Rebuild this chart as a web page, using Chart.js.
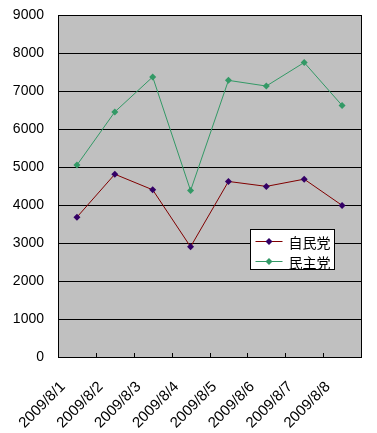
<!DOCTYPE html>
<html>
<head>
<meta charset="utf-8">
<script src="https://cdn.jsdelivr.net/npm/chart.js@4"></script>
<style>
  html, body { margin: 0; padding: 0; background: #ffffff; }
  #wrap { width: 377px; height: 433px; position: relative; }
</style>
</head>
<body>
<div id="wrap"><canvas id="chart" width="377" height="433"></canvas></div>
<script>
// データ
var dates = ['2009/8/1', '2009/8/2', '2009/8/3', '2009/8/4', '2009/8/5', '2009/8/6', '2009/8/7', '2009/8/8'];
var seriesNames = ['自民党', '民主党'];
var jimin = [3680, 4810, 4400, 2900, 4620, 4490, 4680, 3990];
var minshu = [5050, 6450, 7370, 4380, 7280, 7130, 7750, 6620];
var yMin = 0, yMax = 9000, yStep = 1000;

var lineColors = ['#800000', '#339966'];
var markerColors = ['#330066', '#339966'];

var tickFont = { family: "'Liberation Sans', Arial, sans-serif", size: 14 };

// 灰色の背景と枠線、内側の目盛り、凡例
var plotArea = {
    id: 'plotArea',
    beforeDraw: function(chart) {
        var a = chart.chartArea, c = chart.ctx;
        c.save();
        c.fillStyle = '#c0c0c0';
        c.fillRect(a.left, a.top, a.right - a.left, a.bottom - a.top);
        c.restore();
    },
    afterDatasetsDraw: function(chart) {
        var a = chart.chartArea, c = chart.ctx, xs = chart.scales.x;
        c.save();
        c.strokeStyle = '#000000';
        c.lineWidth = 1;
        c.strokeRect(Math.round(a.left) + 0.5, Math.round(a.top) + 0.5,
            Math.round(a.right - a.left), Math.round(a.bottom - a.top));
        c.beginPath();
        for (var i = 1; i < dates.length; i++) {
            var x = Math.round((xs.getPixelForValue(i - 1) + xs.getPixelForValue(i)) / 2) + 0.5;
            c.moveTo(x, a.bottom);
            c.lineTo(x, a.bottom - 4);
        }
        c.stroke();

        // 凡例
        var w = 84, h = 40;
        var bx = Math.round(a.right - 27 - w) + 0.5;
        var by = Math.round(a.top + 214) + 0.5;
        c.fillStyle = '#ffffff';
        c.fillRect(bx, by, w, h);
        c.strokeStyle = '#000000';
        c.strokeRect(bx, by, w, h);
        c.font = "14px 'Noto Sans CJK JP', sans-serif";
        c.textBaseline = 'middle';
        for (var k = 0; k < seriesNames.length; k++) {
            var yy = by + 12 + k * 20;
            c.strokeStyle = lineColors[k];
            c.beginPath();
            c.moveTo(bx + 5, yy);
            c.lineTo(bx + 32, yy);
            c.stroke();
            c.fillStyle = markerColors[k];
            c.beginPath();
            c.moveTo(bx + 18.5, yy - 3.5);
            c.lineTo(bx + 22, yy);
            c.lineTo(bx + 18.5, yy + 3.5);
            c.lineTo(bx + 15, yy);
            c.closePath();
            c.fill();
            c.fillStyle = '#000000';
            c.fillText(seriesNames[k], bx + 38, yy + 1);
        }
        c.restore();
    }
};

new Chart(document.getElementById('chart').getContext('2d'), {
    type: 'line',
    data: {
        labels: dates,
        datasets: [
            {
                label: seriesNames[0],
                data: jimin,
                borderColor: lineColors[0],
                borderWidth: 1,
                backgroundColor: markerColors[0],
                pointStyle: 'rectRot',
                pointRadius: 3.5,
                pointBorderWidth: 0,
                pointBackgroundColor: markerColors[0],
                tension: 0
            },
            {
                label: seriesNames[1],
                data: minshu,
                borderColor: lineColors[1],
                borderWidth: 1,
                backgroundColor: markerColors[1],
                pointStyle: 'rectRot',
                pointRadius: 3.5,
                pointBorderWidth: 0,
                pointBackgroundColor: markerColors[1],
                tension: 0
            }
        ]
    },
    options: {
        responsive: false,
        animation: false,
        devicePixelRatio: 1,
        layout: { padding: { top: 15, right: 16, left: 0, bottom: 0 } },
        plugins: {
            legend: { display: false },
            tooltip: { enabled: false }
        },
        scales: {
            x: {
                offset: true,
                grid: { display: false, drawTicks: false },
                border: { display: false },
                ticks: {
                    color: '#000000',
                    font: { family: tickFont.family, size: 15 },
                    minRotation: 45,
                    maxRotation: 45,
                    padding: 21,
                    labelOffset: -14,
                    autoSkip: false
                },
                afterFit: function(s) { s.height = 76; s.paddingLeft = 0; s.paddingRight = 0; }
            },
            y: {
                min: yMin,
                max: yMax,
                grid: { color: '#000000', lineWidth: 1, drawTicks: false },
                border: { display: false },
                ticks: {
                    stepSize: yStep,
                    color: '#000000',
                    font: tickFont,
                    padding: 14,
                    callback: function(v) { return String(v); }
                },
                afterFit: function(s) { s.width = 58; s.paddingTop = 0; s.paddingBottom = 0; }
            }
        }
    },
    plugins: [plotArea]
});
</script>
</body>
</html>
